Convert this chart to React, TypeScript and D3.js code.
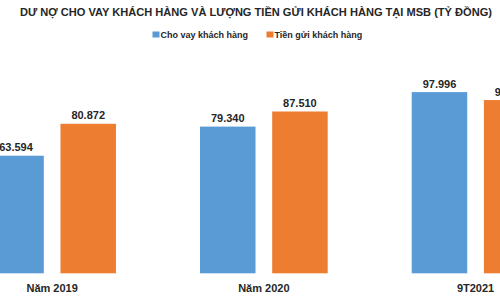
import React from "react";
import * as d3 from "d3";

const title = "DƯ NỢ CHO VAY KHÁCH HÀNG VÀ LƯỢNG TIỀN GỬI KHÁCH HÀNG TẠI MSB (TỶ ĐỒNG)";
const categories = ["Năm 2019", "Năm 2020", "9T2021"];
const seriesNames = ["Cho vay khách hàng", "Tiền gửi khách hàng"];
const loans = [63.594, 79.34, 97.996];
const deposits = [80.872, 87.51, 93.7];
const colors = ["#5B9BD5", "#ED7D31"];

const W = 500;
const H = 300;
const FONT = "'Liberation Sans', Arial, sans-serif";

const fmt = (v: number) => v.toFixed(3);

export default function App() {
  const x0 = d3.scaleBand<string>().domain(categories).range([-11.7, 539.4]).paddingInner(0.397).paddingOuter(0);
  const x1 = d3.scaleBand<string>().domain(seriesNames).range([0, x0.bandwidth()]).paddingInner(0.231).paddingOuter(0);
  const y = d3.scaleLinear().domain([0, 100]).range([273.3, 88.4]);
  const series = [loans, deposits];

  return (
    <svg width={W} height={H} style={{ position: "absolute", left: 0, top: 0, background: "#fff" }} fontFamily={FONT}>
      <rect x={0} y={0} width={W} height={H} fill="#fff" />
      <text x={256} y={16} textAnchor="middle" fontSize={11.3} fontWeight="bold" fill="#262626" textLength={472} lengthAdjust="spacingAndGlyphs">
        {title}
      </text>
      {/* legend */}
      {seriesNames.map((s, i) => {
        const lx = i === 0 ? 152.5 : 266.5;
        return (
          <g key={s}>
            <rect x={lx} y={31.5} width={7} height={6} fill={colors[i]} />
            <text x={lx + 8} y={38} fontSize={9} fontWeight="bold" fill="#262626">{s}</text>
          </g>
        );
      })}
      {categories.map((c, ci) => (
        <g key={c} transform={`translate(${x0(c)},0)`}>
          {seriesNames.map((s, si) => {
            const v = series[si][ci];
            const bx = x1(s)!;
            const bw = x1.bandwidth();
            return (
              <g key={s}>
                <rect x={bx} y={y(v)} width={bw} height={y(0) - y(v)} fill={colors[si]} />
                <text x={bx + bw / 2} y={y(v) - 4.5} textAnchor="middle" fontSize={11} fontWeight="bold" fill="#262626">
                  {fmt(v)}
                </text>
              </g>
            );
          })}
          <text x={x0.bandwidth() / 2} y={291.5} textAnchor="middle" fontSize={11} fontWeight="bold" fill="#262626">{c}</text>
        </g>
      ))}
    </svg>
  );
}
